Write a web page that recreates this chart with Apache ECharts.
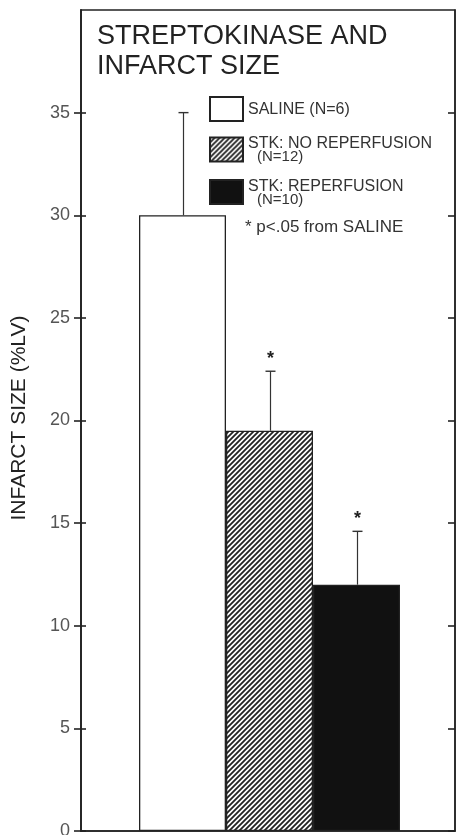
<!DOCTYPE html>
<html>
<head>
<meta charset="utf-8">
<script src="https://cdn.jsdelivr.net/npm/echarts@6/dist/echarts.min.js"></script>
<style>
html,body{margin:0;padding:0;background:#fff;}
#chart{width:457px;height:835px;}
</style>
</head>
<body>
<div id="chart"></div>
<script>
// ---- data ----
const categories = ['SALINE (N=6)', 'STK: NO REPERFUSION (N=12)', 'STK: REPERFUSION (N=10)'];
const legendLines = [['SALINE (N=6)'], ['STK: NO REPERFUSION', '(N=12)'], ['STK: REPERFUSION', '(N=10)']];
const means = [30.0, 19.5, 12.0];
const errors = [5.0, 2.9, 2.6];
const significant = [false, true, true];
const yTicks = [0, 5, 10, 15, 20, 25, 30, 35];
const titleText = 'STREPTOKINASE AND\nINFARCT SIZE';
const yAxisName = 'INFARCT SIZE (%LV)';
const noteText = '* p<.05 from SALINE';

// ---- hatch pattern ----
function makeHatch(size, lw) {
  const c = document.createElement('canvas');
  c.width = size; c.height = size;
  const ctx = c.getContext('2d');
  ctx.fillStyle = '#fff';
  ctx.fillRect(0, 0, size, size);
  ctx.strokeStyle = '#222';
  ctx.lineWidth = lw;
  ctx.beginPath();
  ctx.moveTo(-1, 1); ctx.lineTo(1, -1);
  ctx.moveTo(0, size); ctx.lineTo(size, 0);
  ctx.moveTo(size - 1, size + 1); ctx.lineTo(size + 1, size - 1);
  ctx.stroke();
  return c;
}
const hatch = makeHatch(5, 1.8);

const fills = ['#ffffff', { image: hatch, repeat: 'repeat' }, '#111111'];
const FONT = '"Liberation Sans", Arial, Helvetica, sans-serif';

const barSeries = categories.map((name, i) => ({
  name: name,
  type: 'bar',
  xAxisIndex: 1,
  yAxisIndex: 3,
  stack: 'all',
  barWidth: '100%',
  barCategoryGap: '0%',
  itemStyle: { color: fills[i], borderColor: '#222', borderWidth: 1.3 },
  emphasis: { disabled: true },
  data: means.map((v, j) => (j === i ? v : '-'))
}));

const errSeries = {
  type: 'custom',
  xAxisIndex: 1,
  yAxisIndex: 3,
  z: 10,
  silent: true,
  data: means.map((m, i) => [i, m, m + errors[i], significant[i] ? 1 : 0]),
  renderItem: function (params, api) {
    const base = api.coord([api.value(0), api.value(1)]);
    const top = api.coord([api.value(0), api.value(2)]);
    const x = base[0] + 1;
    const children = [
      { type: 'line', shape: { x1: x, y1: base[1], x2: x, y2: top[1] }, style: { stroke: '#333', lineWidth: 1.2 } },
      { type: 'line', shape: { x1: x - 5, y1: top[1], x2: x + 5, y2: top[1] }, style: { stroke: '#333', lineWidth: 1.4 } }
    ];
    if (api.value(3)) {
      children.push({
        type: 'text',
        style: { text: '*', x: x, y: top[1] - 12, align: 'center', verticalAlign: 'middle', font: 'bold 18px ' + FONT, fill: '#222' }
      });
    }
    return { type: 'group', children: children };
  }
};

const option = {
  backgroundColor: '#fff',
  animation: false,
  title: {
    text: titleText,
    left: 97,
    top: 22,
    padding: 0,
    textStyle: { fontFamily: FONT, fontSize: 27, fontWeight: 'normal', color: '#222', lineHeight: 30 }
  },
  legend: {
    orient: 'vertical',
    left: 209,
    top: 96,
    padding: 0,
    itemWidth: 33,
    itemHeight: 24,
    itemGap: 11,
    icon: 'rect',
    selectedMode: false,
    data: categories,
    formatter: function (name) {
      const i = categories.indexOf(name);
      const l = legendLines[i];
      return l.length > 1 ? '{c|' + l[0] + '}\n{b|' + l[1] + '}' : '{a|' + l[0] + '}';
    },
    textStyle: {
      fontFamily: FONT, color: '#333',
      rich: {
        a: { fontFamily: FONT, fontSize: 16, color: '#333', lineHeight: 15, padding: [2, 0, 0, 0] },
        c: { fontFamily: FONT, fontSize: 16, color: '#333', lineHeight: 15, padding: [3, 0, 0, 0] },
        b: { fontFamily: FONT, fontSize: 15, color: '#333', lineHeight: 14, padding: [0, 0, 0, 9] }
      }
    }
  },
  graphic: [
    { type: 'text', left: 245, top: 219, style: { text: noteText, font: '17px ' + FONT, fill: '#333' } }
  ],
  grid: [
    { left: 81, right: 2, top: 10, bottom: 4, outerBoundsMode: 'none', containLabel: false, show: true, borderColor: '#222', borderWidth: 1.5, backgroundColor: 'transparent' },
    { left: 139, right: 57, top: 10, bottom: 4, outerBoundsMode: 'none', containLabel: false }
  ],
  xAxis: [
    { gridIndex: 0, type: 'value', min: 0, max: 1, axisLine: { show: true, onZero: false, lineStyle: { color: '#222', width: 1.6 } }, axisTick: { show: false }, axisLabel: { show: false }, splitLine: { show: false } },
    { gridIndex: 1, type: 'category', data: categories, show: false }
  ],
  yAxis: [
    {
      gridIndex: 0, type: 'value', position: 'left', min: 0, max: 40, interval: 5,
      name: yAxisName, nameLocation: 'middle', nameGap: 51, nameRotate: 90,
      nameTextStyle: { fontFamily: FONT, fontSize: 21, color: '#222', padding: [0, 0, 0, 5] },
      axisLine: { show: true, lineStyle: { color: '#222', width: 1.8 } },
      axisTick: { show: true, inside: false, length: 7, customValues: yTicks, lineStyle: { color: '#222', width: 1.6 } },
      axisLabel: { show: true, margin: 11, customValues: yTicks, fontFamily: FONT, fontSize: 18, color: '#555' },
      splitLine: { show: false }
    },
    {
      gridIndex: 0, type: 'value', position: 'left', min: 0, max: 40, interval: 5,
      axisLine: { show: false }, axisLabel: { show: false }, splitLine: { show: false },
      axisTick: { show: true, inside: true, length: 5, customValues: yTicks, lineStyle: { color: '#222', width: 1.6 } }
    },
    {
      gridIndex: 0, type: 'value', position: 'right', min: 0, max: 40, interval: 5,
      axisLine: { show: true, lineStyle: { color: '#222', width: 1.5 } }, axisLabel: { show: false }, splitLine: { show: false },
      axisTick: { show: true, inside: true, length: 7, customValues: yTicks, lineStyle: { color: '#222', width: 1.6 } }
    },
    { gridIndex: 1, type: 'value', min: 0, max: 40, show: false, splitLine: { show: false } }
  ],
  series: barSeries.concat([errSeries])
};

const chart = echarts.init(document.getElementById('chart'), null, { renderer: 'canvas' });
chart.setOption(option);
</script>
</body>
</html>
